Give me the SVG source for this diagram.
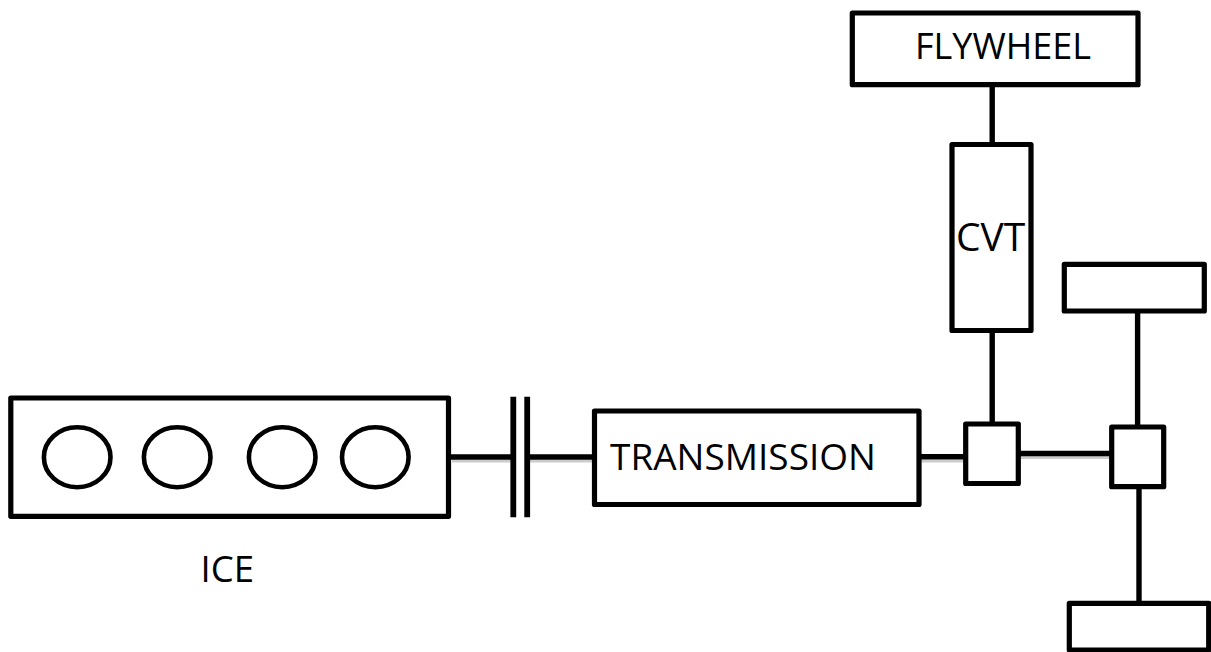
<svg xmlns="http://www.w3.org/2000/svg" width="1211" height="652" viewBox="0 0 1211 652">
<style>
.b{fill:#fff;stroke:#000;stroke-width:5.2;stroke-linejoin:round}
.c{fill:none;stroke:#000;stroke-width:4.6}
text{font-family:"Open Sans","Noto Sans",sans-serif;fill:#000}
</style>
<rect width="1211" height="652" fill="#fff"/>
<g id="connectors" fill="none" stroke="#000" stroke-width="5.400">
<path d="M452 461H512M530 461H594M921 461H966M1019 457.500H1111" stroke="#999" stroke-width="3" opacity=".5"/>
<path d="M992.200 84V144.500M992.200 330.500V424M450 457H513M527 457H594.500M919 456.700H965.700M1018.300 453.500H1111.700M1137.600 311V427M1139 486.700V603.300"/>
<path d="M513.300 396.700V517.300M527.200 396.700V517.300" stroke-width="5.800"/>
</g>
<g id="flywheel"><rect class="b" x="852.300" y="13" width="285.700" height="71.700"/><text x="915" y="59.300" font-size="36">FLYWHEEL</text></g>
<g id="cvt"><rect class="b" x="952" y="144.500" width="79" height="186"/><text x="956" y="251" font-size="39">CVT</text></g>
<g id="wheel-top"><rect class="b" x="1064.300" y="264.300" width="140" height="46.700"/></g>
<g id="ice"><rect class="b" x="10.800" y="398" width="437.700" height="118.300"/>
<ellipse class="c" cx="77.200" cy="457.200" rx="33.300" ry="30"/><ellipse class="c" cx="177.200" cy="457.200" rx="33.300" ry="30"/><ellipse class="c" cx="282.200" cy="457.200" rx="33.300" ry="30"/><ellipse class="c" cx="375.300" cy="457.200" rx="33.300" ry="30"/>
<text x="200.500" y="582" font-size="36.500">ICE</text></g>
<g id="transmission"><rect class="b" x="594.500" y="411" width="324.500" height="93.500"/><text x="610" y="470" font-size="37">TRANSMISSION</text></g>
<g id="junction-1"><rect class="b" x="965.700" y="424" width="52.600" height="59.500"/></g>
<g id="junction-2"><rect class="b" x="1111.700" y="427" width="52" height="59.700"/></g>
<g id="wheel-bottom"><rect class="b" x="1069.300" y="603.300" width="139.400" height="46.700"/></g>
</svg>
